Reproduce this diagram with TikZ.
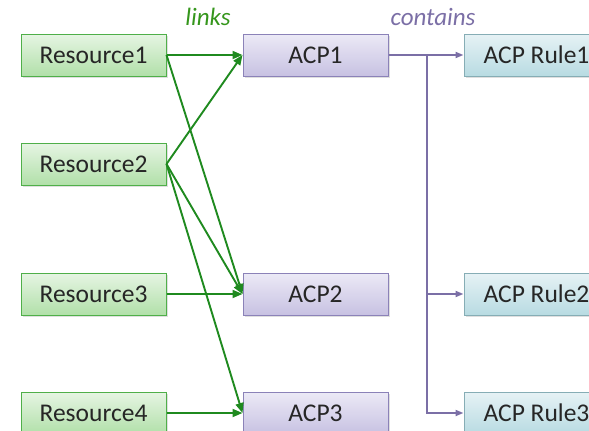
\documentclass[tikz,border=0pt]{standalone}
\usepackage{fontspec}
\setmainfont{Carlito}
\usepackage{tikz}
\usetikzlibrary{arrows.meta}
\usetikzlibrary{shapes,positioning,calc,shadows}

\definecolor{resfill}{HTML}{B1E0A9}
\definecolor{restop}{HTML}{E6F5E3}
\definecolor{resline}{HTML}{4FAF49}
\definecolor{acpfill}{HTML}{C7C1E2}
\definecolor{acptop}{HTML}{ECEAF6}
\definecolor{acpline}{HTML}{8B82B8}
\definecolor{rulefill}{HTML}{B8DBE2}
\definecolor{ruletop}{HTML}{E6F2F5}
\definecolor{ruleline}{HTML}{86ADB5}
\definecolor{linkgreen}{HTML}{1F8A1F}
\definecolor{contpurple}{HTML}{7B6FA6}

\tikzset{
  box/.style={rectangle, minimum width=145pt, minimum height=42pt, line width=1pt,
    font=\fontsize{25.5}{30}\selectfont, text=black!85,
    drop shadow={shadow xshift=1.5pt, shadow yshift=-2pt, opacity=0.25}},
  resbox/.style={box, draw=resline, top color=restop, bottom color=resfill},
  acpbox/.style={box, draw=acpline, top color=acptop, bottom color=acpfill},
  rulebox/.style={box, draw=ruleline, top color=ruletop, bottom color=rulefill},
  link/.style={draw=linkgreen, line width=1.9pt, -{Triangle[length=10pt,width=8pt]}},
  contain/.style={draw=contpurple, line width=1.9pt, -{Triangle[length=8pt,width=6pt]}},
}

\begin{document}
\begin{tikzpicture}[x=1pt, y=-1pt]
     \clip (0,0) rectangle (589,431);
     % resources
     \node[resbox] (res1) at (93.5,55) {Resource1};
     \node[resbox] (res2) at (93.5,164) {Resource2};
     \node[resbox] (res3) at (93.5,294) {Resource3};
     \node[resbox] (res4) at (93.5,413) {Resource4};
     % policies
     \node[acpbox] (acp1) at (315.5,55) {ACP1};
     \node[acpbox] (acp2) at (315.5,294) {ACP2};
     \node[acpbox] (acp3) at (315.5,413) {ACP3};
     % rules
     \node[rulebox] (rule1) at (536.5,55) {ACP Rule1};
     \node[rulebox] (rule2) at (536.5,294) {ACP Rule2};
     \node[rulebox] (rule3) at (536.5,413) {ACP Rule3};

     \node[font=\fontsize{25}{30}\selectfont\itshape, text=linkgreen!90!yellow] (links) at (208,17) {links};
     \node[font=\fontsize{25}{30}\selectfont\itshape, text=contpurple] (contains) at (433,17) {contains};

     \draw[link] (res1.east) -- (acp1.west);
     \draw[link] (res1.east) -- (acp2.west);
     \draw[link] (res2.east) -- (acp1.west);
     \draw[link] (res2.east) -- (acp2.west);
     \draw[link] (res2.east) -- (acp3.west);
     \draw[link] (res3.east) -- (acp2.west);
     \draw[link] (res4.east) -- (acp3.west);

     \coordinate (split) at (427,55);
     \draw[contain] (acp1.east) -- (rule1.west);
     \draw[contain] (split) |- (rule2.west);
     \draw[contain] (split) |- (rule3.west);
\end{tikzpicture}
\end{document}
